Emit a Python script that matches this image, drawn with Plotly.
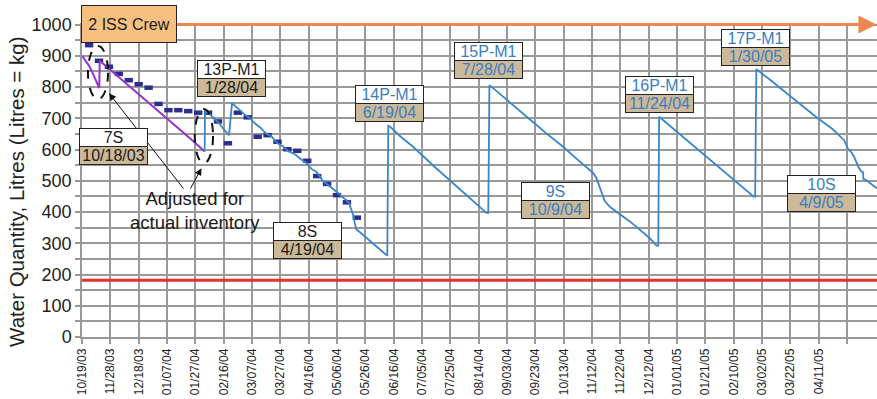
import plotly.graph_objects as go

FONT = "Liberation Sans, Arial, sans-serif"

# ---- category axis: one sample per day since 10/19/03, label every 20 samples ----
tick_labels = ["10/19/03", "11/28/03", "12/18/03", "01/07/04", "01/27/04", "02/16/04",
               "03/07/04", "03/27/04", "04/16/04", "05/06/04", "05/26/04", "06/16/04",
               "07/05/04", "07/25/04", "08/14/04", "09/03/04", "09/23/04", "10/13/04",
               "11/12/04", "11/22/04", "12/12/04", "01/01/05", "01/21/05", "02/10/05",
               "03/02/05", "03/22/05", "04/11/05", ""]
tick_step = 20

# ---- water quantity, 7S increment (litres) ----
inc7_day = [0, 2.5, 5, 7, 9, 11, 12.2, 12.5, 20, 30, 40, 50, 60, 69, 78, 86.6]
inc7_val = [900, 884, 868, 850, 830, 812, 797, 884, 855, 816, 778, 739, 700, 665, 629, 594]

# ---- water quantity, 8S / 9S / 10S increments (litres) ----
actual_day = [86.6, 86.8, 89, 92, 96, 100, 103.8, 105.9, 109, 112, 115, 118.4, 122, 126,
              130, 134, 138, 142, 146, 150, 153.7, 158, 162, 165.5, 170, 174, 177, 181,
              184, 186.7, 188.5, 190, 191.5, 192.5, 193.7, 196, 200, 205.5, 208, 211,
              214.4, 215.5, 216.2, 217.5, 225, 233.7, 242, 250, 260.8, 268, 276, 285.5,
              286.8, 287.6, 295, 305, 316, 328, 339.6, 350, 360.8, 363, 366, 369, 373,
              377.3, 382, 386.7, 392, 397, 400.8, 405.6, 406.8, 407.4, 415, 425, 436,
              447, 458, 466, 474, 475.2, 476, 485, 495, 506.6, 518, 530, 538, 541, 543,
              545, 548, 550, 551.4, 551.6, 554, 561]
actual_val = [594, 720, 718, 705, 688, 665, 646, 748, 737, 724, 711, 701, 684, 670,
              651, 641, 620, 610, 594, 586, 572, 558, 538, 528, 500, 486, 474, 460,
              447, 438, 428, 406, 390, 366, 344, 336, 320, 300, 291, 279,
              264, 262, 676, 673, 641, 609, 573, 540, 497, 467, 434, 397,
              397, 806, 778, 738, 697, 651, 609, 567, 525, 510, 470, 435, 415,
              401, 384, 370, 350, 330, 316, 292, 293, 705, 676, 638, 596,
              553, 512, 481, 450, 449, 857, 826, 789, 745, 705, 665, 630, 600, 592,
              577, 545, 530, 527, 506, 501, 476]

# ---- planned weekly quantity (litres) ----
plan_day = [5, 12, 19, 26, 33, 40, 47, 54, 61, 68, 75, 82, 89, 96, 103, 110, 117, 124,
            131, 138, 145, 152, 159, 166, 173, 180, 187, 194]
plan_val = [934, 884, 865, 842, 822, 809, 798, 746, 726, 726, 723, 718, 718, 690, 620,
            718, 703, 641, 646, 625, 601, 596, 564, 515, 490, 454, 431, 382]

# ---- reference levels ----
reserve_level = 182
crew_level = 1000

# ---- resupply / increment events ----
event_names = ["7S", "13P-M1", "8S", "14P-M1", "15P-M1", "9S", "16P-M1", "17P-M1", "10S"]
event_dates = ["10/18/03", "1/28/04", "4/19/04", "6/19/04", "7/28/04", "10/9/04",
               "11/24/04", "1/30/05", "4/9/05"]
event_days = [22.5, 105.7, 159.2, 217.2, 287, 334, 407.8, 475.3, 522]

# label placement (value axis position of the name row) and text colour
label_y = [639, 855, 338, 776, 914, 467, 805, 955, 488]
label_color = ["#1a1a1a", "#1a1a1a", "#1a1a1a", "#3a7dc0", "#3a7dc0", "#3a7dc0",
               "#3a7dc0", "#3a7dc0", "#3a7dc0"]

fig = go.Figure()

fig.add_trace(go.Scatter(
    x=plan_day, y=plan_val, mode="markers",
    marker=dict(symbol="line-ew", size=6, color="#2b2e8c",
                line=dict(width=4.5, color="#2b2e8c")),
    hoverinfo="skip"))
fig.add_trace(go.Scatter(
    x=inc7_day, y=inc7_val, mode="lines",
    line=dict(color="#9933cc", width=2), hoverinfo="skip"))
fig.add_trace(go.Scatter(
    x=actual_day, y=actual_val, mode="lines",
    line=dict(color="#3a86c8", width=1.8), hoverinfo="skip"))

shapes = [
    dict(type="line", xref="paper", x0=0, x1=1, yref="y", y0=reserve_level, y1=reserve_level,
         line=dict(color="#e5332a", width=3)),
    dict(type="circle", xref="x", yref="y", x0=4.2, x1=18.4, y0=761, y1=931,
         line=dict(color="#111111", width=2, dash="dash")),
    dict(type="circle", xref="x", yref="y", x0=79.6, x1=92.5, y0=556, y1=730,
         line=dict(color="#111111", width=2, dash="dash")),
]

annotations = []
# crew-size arrow along the top
annotations.append(dict(
    x=560.8, y=crew_level, ax=0, ay=crew_level, xref="x", yref="y", axref="x", ayref="y",
    text="", showarrow=True, arrowhead=2, arrowsize=1.2, arrowwidth=3,
    arrowcolor="#ee8650", standoff=0))
annotations.append(dict(
    x=32.9, y=1001, xref="x", yref="y", text="2 ISS Crew", showarrow=False,
    width=94, height=36, bgcolor="#f8c07e", bordercolor="#222222", borderwidth=1,
    borderpad=0, font=dict(family=FONT, size=16, color="#1a1a1a")))

# inventory adjustment note
annotations.append(dict(
    x=19.1, y=780, ax=72.5, ay=470, xref="x", yref="y", axref="x", ayref="y",
    text="", showarrow=True, arrowhead=2, arrowsize=1.4, arrowwidth=1,
    arrowcolor="#111111", standoff=0))
annotations.append(dict(
    x=84.3, y=540, ax=76, ay=470, xref="x", yref="y", axref="x", ayref="y",
    text="", showarrow=True, arrowhead=2, arrowsize=1.4, arrowwidth=1,
    arrowcolor="#111111", standoff=0))
annotations.append(dict(
    x=79.6, y=406, xref="x", yref="y", text="Adjusted for<br>actual inventory",
    showarrow=False, font=dict(family=FONT, size=18.5, color="#1a1a1a")))

# value axis title
annotations.append(dict(
    x=0, y=0.462, xref="paper", yref="paper", xshift=-65, xanchor="center", yanchor="middle",
    text="Water Quantity, Litres (Litres = kg)", textangle=-90, showarrow=False,
    font=dict(family=FONT, size=20.5, color="#222222")))

# event labels: name row over date row
row_gap = 18 / 0.3124
for name, date, day, ytop, col in zip(event_names, event_dates, event_days, label_y, label_color):
    annotations.append(dict(
        x=day, y=ytop, xref="x", yref="y", text=name, showarrow=False,
        width=67, height=17, bgcolor="#ffffff", bordercolor="#222222", borderwidth=1,
        borderpad=0, font=dict(family=FONT, size=16, color=col)))
    annotations.append(dict(
        x=day, y=ytop - row_gap, xref="x", yref="y", text=date, showarrow=False,
        width=67, height=17, bgcolor="#cbb999", bordercolor="#222222", borderwidth=1,
        borderpad=0, font=dict(family=FONT, size=16, color=col)))

grid = "#999999"
fig.update_layout(
    width=877, height=399,
    margin=dict(l=82, r=0, t=23, b=62),
    paper_bgcolor="white", plot_bgcolor="white",
    showlegend=False,
    font=dict(family=FONT, color="#1a1a1a"),
    shapes=shapes, annotations=annotations,
    xaxis=dict(
        range=[0, 561.2], tickmode="array",
        tickvals=[i * tick_step for i in range(len(tick_labels))],
        ticktext=tick_labels, tickangle=-90,
        tickfont=dict(family=FONT, size=12, color="#222222"),
        showgrid=True, gridcolor=grid, gridwidth=1.5,
        ticks="outside", ticklen=5, tickcolor=grid, tickwidth=1.5,
        showline=True, linecolor=grid, linewidth=1.5, zeroline=False),
    yaxis=dict(
        range=[0, 1005], tick0=0, dtick=100,
        tickfont=dict(family=FONT, size=18, color="#222222"),
        showgrid=True, gridcolor=grid, gridwidth=1.5,
        minor=dict(dtick=50, showgrid=True, gridcolor=grid, gridwidth=1.5,
                   ticks="outside", ticklen=5, tickcolor=grid),
        ticks="outside", ticklen=5, tickcolor=grid, tickwidth=1.5,
        showline=True, linecolor=grid, linewidth=1.5, zeroline=False),
)

fig.write_html("out.html")
